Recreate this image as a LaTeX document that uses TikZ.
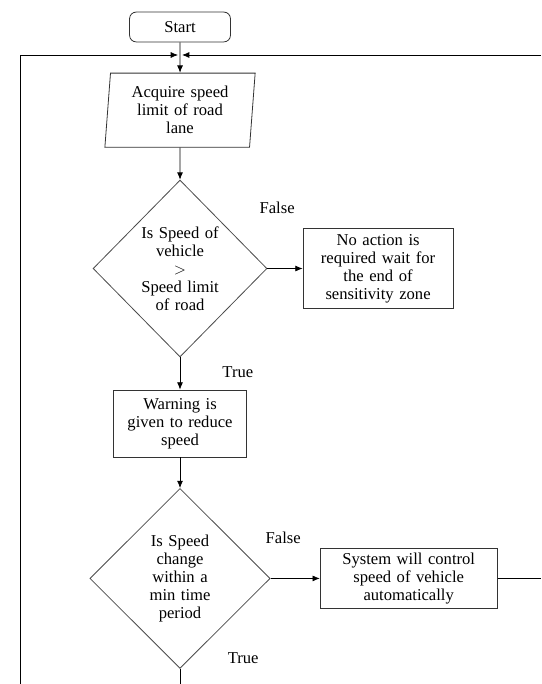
\documentclass[tikz,border=0pt]{standalone}
\usepackage{fontspec}
\setmainfont{Liberation Serif}
\usepackage{tikz}
\usetikzlibrary{shapes.geometric, arrows, arrows.meta}
\tikzstyle{startstop} = [rectangle, 
rounded corners=5pt, 
minimum width=2.67cm, 
minimum height=0.79cm, 
text centered, 
draw=black!80, 
fill=white]
\tikzstyle{io} = [trapezium, 
trapezium stretches=true, 
trapezium left angle=85, 
trapezium right angle=95,
text width=3cm, 
minimum width=4cm, 
minimum height=1.96cm, text centered, 
draw=black!80, fill=white]
\tikzstyle{decision} = [diamond, 
inner sep=0pt, 
text width=2.3cm, 
text centered, 
draw=black!70, 
fill=white]
\tikzstyle{process} = [rectangle, 
text centered, 
draw=black!80, 
fill=white]
\tikzstyle{branch} = [inner sep=0pt]

\begin{document}
\begin{tikzpicture}[node distance=4.1cm, line width=0.6pt, >={Latex[length=5.5pt,width=4.5pt]}]
\tikzstyle{every node}=[font=\fontsize{12.5}{13.5}\selectfont]
\useasboundingbox (-4.763,0.714) rectangle (9.551,-17.383);
\node (start) [startstop] {Start};
\node (acq) [io, below of=start, yshift=1.9cm] {Acquire speed\\ limit of road\\ lane};
\node (d1) [decision, below of=acq, yshift=-0.09cm, minimum width=4.6cm, minimum height=4.68cm] {Is Speed of\\ vehicle\\ $>$\\ Speed limit\\ of road};
\node (noact) [process, right of=d1, xshift=1.14cm, text width=3.5cm, minimum width=3.97cm, minimum height=2.12cm] {No action is\\ required wait for\\ the end of\\ sensitivity zone};
\node (warn) [process, below of=d1, text width=3.1cm, minimum width=3.52cm, minimum height=1.77cm] {Warning is\\ given to reduce\\ speed};
\node (d2) [decision, below of=warn, minimum width=4.77cm, minimum height=4.76cm, text width=2cm] {Is Speed\\ change\\ within a\\ min time\\ period};
\node (sys) [process, right of=d2, xshift=1.95cm, text width=4.3cm, minimum width=4.68cm, minimum height=1.56cm] {System will control\\ speed of vehicle\\ automatically};

\node (false1) [branch] at ([xshift=2.57cm, yshift=1.61cm]d1.center) {False};
\node (true1) [branch] at ([xshift=1.53cm, yshift=-2.75cm]d1.center) {True};
\node (false2) [branch] at ([xshift=2.73cm, yshift=1.08cm]d2.center) {False};
\node (true2) [branch] at ([xshift=1.67cm, yshift=-2.12cm]d2.center) {True};

\coordinate (join) at (0,-0.741);
\coordinate (loopl) at (-4.233,-17.383);
\coordinate (loopr) at (9.551,-0.741);
\coordinate (down) at (d2.south |- loopl);
\coordinate (out) at (sys.east -| loopr);

\draw [->] (start) -- (acq);
\draw [->] (acq) -- (d1);
\draw [->] (d1) -- (noact);
\draw [->] (d1) -- (warn);
\draw [->] (warn) -- (d2);
\draw [->] (d2) -- (sys);
\draw (d2) -- (down);
\draw (sys) -- (out);
\draw [->, shorten >=1.5pt] (loopl) |- (join);
\draw [->, shorten >=1.5pt] (loopr) -- (join);
\end{tikzpicture}
\end{document}
